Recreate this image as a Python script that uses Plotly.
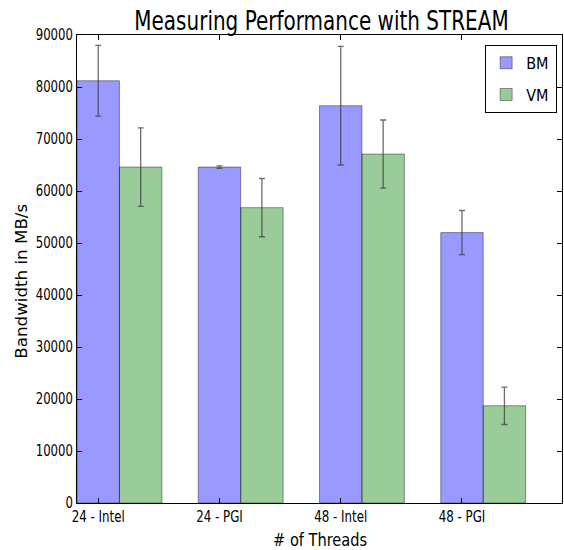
import plotly.graph_objects as go

categories = ["24 - Intel", "24 - PGI", "48 - Intel", "48 - PGI"]
bm_values = [81200, 64600, 76400, 52000]
bm_errors = [6800, 250, 11400, 4250]
vm_values = [64600, 56800, 67100, 18700]
vm_errors = [7550, 5600, 6550, 3600]
y_ticks = [0, 10000, 20000, 30000, 40000, 50000, 60000, 70000, 80000, 90000]

width = 0.35
idx = list(range(len(categories)))
FONT = "DejaVu Sans, sans-serif"

fig = go.Figure()
fig.add_trace(go.Bar(
    name="BM", legendgroup="bm", x=[i + width / 2 for i in idx], y=bm_values, width=width,
    marker=dict(color="rgba(0,0,255,0.4)", line=dict(color="rgba(0,0,0,0.4)", width=1)),
    error_y=dict(type="data", array=bm_errors, color="rgba(60,60,60,0.75)", thickness=1.3, width=3),
))
fig.add_trace(go.Bar(
    name="VM", legendgroup="vm", x=[i + 1.5 * width for i in idx], y=vm_values, width=width,
    marker=dict(color="rgba(0,128,0,0.4)", line=dict(color="rgba(0,0,0,0.4)", width=1)),
    error_y=dict(type="data", array=vm_errors, color="rgba(60,60,60,0.75)", thickness=1.3, width=3),
))

fig.update_layout(
    width=564, height=550,
    margin=dict(l=77, r=2, t=35, b=47),
    paper_bgcolor="white", plot_bgcolor="white",
    barmode="overlay",
    font=dict(family=FONT, color="black", size=15),
    title=dict(text="Measuring Performance with STREAM", x=0.57, xanchor="center",
               y=0.962, yanchor="middle", font=dict(size=27, family=FONT)),
    xaxis=dict(
        range=[0, 4], tickmode="array", tickvals=[i + width / 2 for i in idx], ticktext=categories,
        showline=True, linecolor="black", linewidth=1.2, mirror="ticks",
        ticks="inside", ticklen=5, tickcolor="black", showgrid=False, zeroline=False,
        tickfont=dict(size=15, family=FONT),
    ),
    yaxis=dict(
        range=[0, 90000], tickmode="array", tickvals=y_ticks, ticktext=[str(v) for v in y_ticks],
        showline=True, linecolor="black", linewidth=1.2, mirror="ticks",
        ticks="inside", ticklen=5, tickcolor="black", showgrid=False, zeroline=False,
        tickfont=dict(size=15, family=FONT),
    ),
    legend=dict(x=0.99, y=0.979, xanchor="right", yanchor="top",
                bordercolor="black", borderwidth=1, bgcolor="white",
                tracegroupgap=8, font=dict(size=16, family=FONT)),
    annotations=[
        dict(text="# of Threads", xref="paper", yref="paper", x=0.502, y=-0.078,
             xanchor="center", yanchor="middle", showarrow=False,
             font=dict(size=18, family=FONT)),
        dict(text="Bandwidth in MB/s", xref="paper", yref="paper", x=-0.1144, y=0.474,
             xanchor="center", yanchor="middle", textangle=-90, showarrow=False,
             font=dict(size=16.7, family=FONT)),
    ],
    showlegend=True,
)

post = """
var gd = document.getElementById('{plot_id}');
document.body.style.margin = '0';
document.body.style.overflow = 'hidden';
function squish(sel, s) {
  gd.querySelectorAll(sel).forEach(function (el) {
    var b = el.getBBox();
    var a = el.getAttribute('text-anchor') || 'start';
    var cx = a === 'end' ? b.x + b.width : (a === 'middle' ? b.x + b.width / 2 : b.x);
    var cy = b.y + b.height / 2;
    var t = el.getAttribute('transform') || '';
    el.setAttribute('transform', t + ' translate(' + cx + ',' + cy + ') scale(' + s + ',1) translate(' + (-cx) + ',' + (-cy) + ')');
  });
}
squish('text.gtitle', 0.74);
squish('g.xtick text', 0.79);
squish('g.ytick text', 0.78);
squish('text.legendtext', 0.9);
var ann = gd.querySelectorAll('g.annotation text');
if (ann.length) {
  var el = ann[0];
  var b = el.getBBox();
  var cx = b.x + b.width / 2, cy = b.y + b.height / 2;
  var t = el.getAttribute('transform') || '';
  el.setAttribute('transform', t + ' translate(' + cx + ',' + cy + ') scale(0.81,1) translate(' + (-cx) + ',' + (-cy) + ')');
}
"""

fig.write_html("out.html", config={"displayModeBar": False}, post_script=post)
